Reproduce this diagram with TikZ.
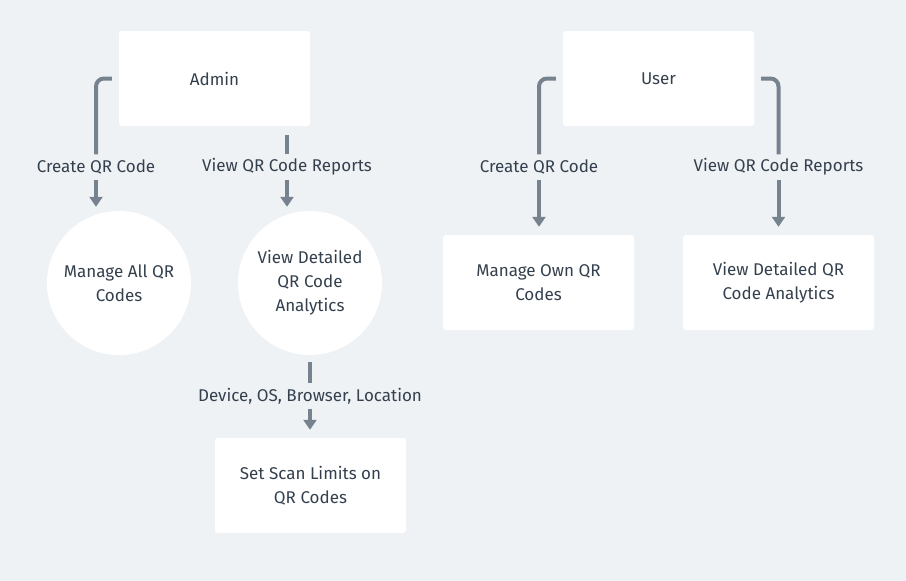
\documentclass[tikz,border=0pt]{standalone}
\usepackage{fontspec}
\setmainfont{Fira Sans}
\usepackage{tikz}
\usetikzlibrary{arrows.meta}
\definecolor{bgcol}{HTML}{EFF2F5}
\definecolor{inkcol}{HTML}{34404D}
\definecolor{linkcol}{HTML}{76838F}

\begin{document}
\begin{tikzpicture}[x=1pt,y=-1pt,
  font=\fontsize{17}{24}\selectfont, text=inkcol,
  box/.style={fill=white, rounded corners=3pt, minimum width=191pt, minimum height=95pt, align=center, inner sep=0pt},
  disc/.style={circle, fill=white, minimum size=144pt, align=center, inner sep=0pt},
  lbl/.style={fill=bgcol, inner xsep=2pt, inner ysep=0pt, minimum height=25pt},
  link/.style={draw=linkcol, line width=4pt, rounded corners=8pt},
  tip/.style={-{Triangle[width=13pt,length=10pt]}}]
  \fill[bgcol] (0,0) rectangle (906,581);
  \node[box] (admin) at (214.5,78.5) {Admin};
  \node[box] (user) at (658.5,78.5) {User};
  \node[disc] (manageall) at (119,283) {Manage All QR\\Codes};
  \node[disc] (viewadmin) at (310,283) {View Detailed\\QR Code\\Analytics};
  \node[box] (manageown) at (538.5,282.5) {Manage Own QR\\Codes};
  \node[box] (viewuser) at (778.5,282.5) {View Detailed QR\\Code Analytics};
  \node[box] (setscan) at (310.5,485.5) {Set Scan Limits on\\QR Codes};
  \node[lbl] (createadmin) at (96,167) {Create QR Code};
  \node[lbl] (reportadmin) at (287,167) {View QR Code Reports};
  \node[lbl] (createuser) at (539,167) {Create QR Code};
  \node[lbl] (reportuser) at (778.5,167) {View QR Code Reports};
  \node[lbl] (details) at (310,396) {Device, OS, Browser, Location};
  \draw[link, shorten <=7pt] (admin.west) -| (createadmin);
  \draw[link, tip, shorten >=4pt] (createadmin) -- (createadmin |- manageall.north);
  \draw[link, shorten <=9pt] (reportadmin |- admin.south) -- (reportadmin);
  \draw[link, tip, shorten >=4pt] (reportadmin) -- (reportadmin |- viewadmin.north);
  \draw[link, shorten <=7pt] (user.west) -| (createuser);
  \draw[link, tip, shorten >=8pt] (createuser) -- (createuser |- manageown.north);
  \draw[link, shorten <=7pt] (user.east) -| (reportuser);
  \draw[link, tip, shorten >=8pt] (reportuser) -- (reportuser |- viewuser.north);
  \draw[link, shorten <=7pt] (details |- viewadmin.south) -- (details);
  \draw[link, tip, shorten >=8pt] (details) -- (details |- setscan.north);
\end{tikzpicture}
\end{document}
